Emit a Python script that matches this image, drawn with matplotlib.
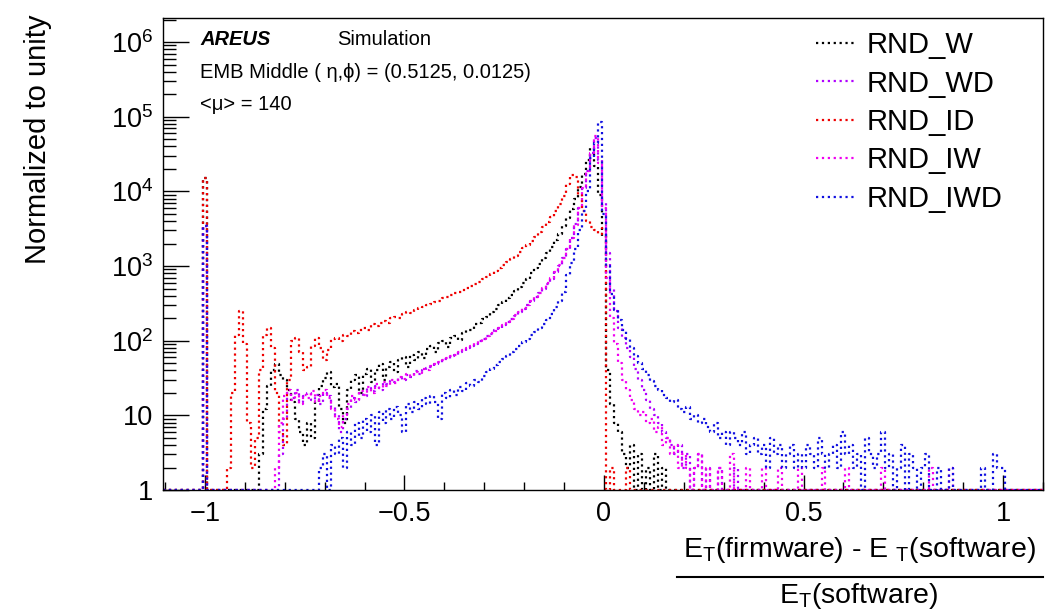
import numpy as np
import matplotlib
matplotlib.use("Agg")
import matplotlib.pyplot as plt
from matplotlib.lines import Line2D
from matplotlib.ticker import FixedLocator, MultipleLocator, LogLocator, FuncFormatter, NullFormatter

plt.rcParams["font.family"] = ["Liberation Sans", "DejaVu Sans"]
plt.rcParams["mathtext.fontset"] = "custom"
plt.rcParams["mathtext.rm"] = "Liberation Sans"
plt.rcParams["mathtext.it"] = "Liberation Sans:italic"
plt.rcParams["mathtext.bf"] = "Liberation Sans:bold"

# binning: 0.01 wide bins centred on -1.10 ... 1.10
bin_centers = np.round(np.arange(-110, 111) * 0.01, 2)
bin_edges = np.append(bin_centers - 0.005, bin_centers[-1] + 0.005)

labels = ["RND_W", "RND_WD", "RND_ID", "RND_IW", "RND_IWD"]
colors = ["black", "#b000ff", "#ee0000", "#f000f0", "#1010e0"]

# entries in the bin at -1 (failed reconstruction)
spike_vals = [15000, 3400, 15000, 3400, 3400]

# RND_W
w_start = -0.86
w_counts = [3, 12, 25, 40, 48, 35, 30, 22, 15, 9,
            6, 4, 8, 5, 15, 25, 32, 38, 24, 26,
            12, 8, 22, 30, 35, 20, 36, 42, 28, 40,
            48, 30, 45, 52, 38, 55, 60, 45, 65, 55,
            70, 58, 78, 85, 70, 92, 98, 82, 108, 115,
            102, 128, 140, 138, 165, 170, 195, 210, 245, 262,
            300, 325, 375, 410, 470, 520, 600, 680, 800, 930,
            1080, 1270, 1500, 1800, 2200, 2700, 3400, 4400, 5800, 8000,
            11500, 17000, 26000, 38000, 22000, 9000, 2500, 40, 14, 8,
            6, 3, 2, 4, 1, 3, 0, 2, 1, 3,
            0, 2, 0, 1, 0, 0, 1]

# RND_WD
wd_start = -0.81
wd_counts = [3, 9, 20, 17, 22, 15, 18, 20, 16, 19,
             14, 20, 18, 13, 10, 6, 9, 12, 17, 15,
             20, 18, 23, 21, 25, 22, 27, 26, 29, 28,
             32, 30, 35, 33, 39, 36, 41, 43, 45, 49,
             51, 56, 57, 63, 64, 71, 72, 79, 84, 90,
             99, 104, 116, 124, 137, 146, 163, 176, 197, 215,
             245, 268, 305, 338, 390, 430, 500, 580, 680, 820,
             1000, 1300, 1700, 2400, 3600, 6000, 11000, 19000, 33000, 52000,
             26000, 7000, 1500, 500, 250, 150, 110, 80, 60, 42,
             30, 22, 16, 12, 10, 8, 6, 5, 4, 3,
             4, 2, 3, 1, 2, 3, 1, 2, 0, 1,
             2, 0, 1, 0, 2, 1, 0, 0, 1, 0]

# RND_ID
id_start = -0.94
id_counts = [2, 20, 120, 250, 90, 8, 2, 5, 40, 120,
             150, 80, 20, 6, 4, 30, 100, 110, 70, 40,
             45, 85, 110, 80, 55, 75, 105, 110, 100, 120,
             115, 135, 125, 140, 150, 140, 165, 155, 175, 185,
             175, 200, 210, 200, 225, 240, 235, 260, 270, 285,
             300, 310, 330, 345, 370, 385, 410, 430, 455, 480,
             510, 545, 580, 620, 665, 720, 780, 850, 930, 1020,
             1120, 1240, 1380, 1540, 1720, 1930, 2180, 2480, 2850, 3300,
             3850, 4550, 5500, 6800, 8800, 12500, 16500, 15500, 9000, 5500,
             4000, 3300, 3000, 2700, 3200, 0, 2, 0, 0, 1, 2]

# RND_IW
iw_start = -0.82
iw_counts = [2, 8, 18, 22, 16, 20, 14, 19, 17, 21,
             15, 18, 22, 17, 12, 9, 7, 10, 14, 18,
             16, 21, 19, 24, 20, 26, 23, 28, 25, 30,
             27, 33, 31, 36, 34, 38, 37, 42, 40, 46,
             48, 52, 55, 58, 62, 65, 70, 74, 80, 86,
             92, 98, 106, 115, 125, 136, 148, 162, 178, 196,
             218, 242, 270, 302, 340, 385, 440, 505, 590, 700,
             840, 1030, 1300, 1700, 2400, 3500, 6000, 11000, 19000, 33000,
             55000, 24000, 6000, 700, 200, 90, 50, 30, 22, 16,
             12, 10, 11, 8, 9, 6, 7, 4, 5, 3,
             4, 2, 3, 2, 1, 2, 3, 1, 2, 0,
             1, 2, 0, 1, 3, 0, 1, 0, 2, 0,
             1, 0, 2, 1, 0, 0, 2, 0, 1, 0,
             0, 2, 0, 1, 0, 0, 0, 2, 0, 0,
             1, 0, 0, 2, 0, 0, 1, 0, 0, 0,
             0, 0, 2, 0, 0, 0, 0, 1, 0, 0,
             0, 0, 0, 0, 2, 0, 0, 0, 0, 2, 0]

# RND_IWD
iwd_start = -0.71
iwd_counts = [2, 3, 1, 4, 3, 5, 2, 6, 4, 8,
              5, 9, 6, 10, 4, 11, 8, 12, 9, 13,
              10, 6, 14, 11, 15, 12, 17, 14, 18, 15,
              9, 20, 17, 22, 19, 24, 21, 27, 25, 30,
              28, 34, 38, 42, 47, 52, 57, 63, 70, 78,
              86, 95, 105, 118, 132, 148, 168, 192, 230, 280,
              340, 450, 750, 1100, 1700, 3000, 5500, 10000, 28000, 45000,
              85000, 5000, 1000, 420, 260, 190, 140, 105, 80, 62,
              50, 42, 35, 29, 25, 22, 19, 17, 15, 16,
              12, 11, 13, 9, 10, 8, 9, 7, 6, 8,
              5, 6, 4, 6, 5, 4, 6, 3, 4, 5,
              3, 4, 2, 5, 3, 4, 2, 3, 4, 2,
              3, 2, 4, 3, 2, 5, 3, 2, 3, 4,
              2, 6, 3, 4, 2, 3, 1, 5, 3, 2,
              3, 6, 2, 3, 1, 2, 4, 1, 3, 2,
              1, 2, 3, 1, 0, 2, 1, 0, 2, 0,
              1, 0, 0, 0, 1, 0, 2, 0, 0, 3,
              2, 2, 0]

starts = [w_start, wd_start, id_start, iw_start, iwd_start]
counts = [w_counts, wd_counts, id_counts, iw_counts, iwd_counts]


def fill_hist(start, vals, spike):
    h = np.zeros(len(bin_centers))
    i0 = int(np.argmin(np.abs(bin_centers - start)))
    h[i0:i0 + len(vals)] = vals
    h[np.argmin(np.abs(bin_centers + 1.0))] = spike
    return h


fig = plt.figure(figsize=(10.47, 6.13), dpi=100)
ax = fig.add_axes([163 / 1047, 1 - 490 / 613, 880 / 1047, 472 / 613])

for lab, col, st, vals, sp in zip(labels, colors, starts, counts, spike_vals):
    h = np.clip(fill_hist(st, vals, sp), 1, None)
    ax.step(bin_edges, np.append(h, h[-1]), where="post", color=col,
            ls=":", lw=1.6, label=lab)

ax.set_yscale("log")
ax.set_ylim(1, 2.1e6)
ax.set_xlim(-1.105, 1.10)

ax.xaxis.set_major_locator(FixedLocator([-1, -0.5, 0, 0.5, 1]))
ax.xaxis.set_minor_locator(MultipleLocator(0.1))
ax.xaxis.set_major_formatter(FuncFormatter(
    lambda v, p: ("%g" % v).replace("-", "\u2212")))
ax.yaxis.set_major_locator(LogLocator(base=10, numticks=12))
ax.yaxis.set_minor_locator(LogLocator(base=10, subs=np.arange(2, 10), numticks=12))
ax.yaxis.set_minor_formatter(NullFormatter())


def ylab(v, p):
    n = int(round(np.log10(v)))
    if n == 0:
        return "1"
    if n == 1:
        return "10"
    return r"$\mathregular{10^{%d}}$" % n


ax.yaxis.set_major_formatter(FuncFormatter(ylab))

ax.tick_params(axis="both", which="both", direction="in", top=False, right=False)
ax.tick_params(axis="y", which="major", length=19, width=1, labelsize=19.5, pad=7)
ax.tick_params(axis="y", which="minor", length=9.5, width=1)
ax.tick_params(axis="x", which="major", length=11, width=1, labelsize=19.5, pad=8)
ax.tick_params(axis="x", which="minor", length=6, width=1)
for s in ax.spines.values():
    s.set_linewidth(1.0)

ax.legend(loc="upper left", bbox_to_anchor=((816 - 163) / 880, 1 - (31 - 18) / 472),
          frameon=False, fontsize=21, handlelength=1.4, handletextpad=0.35,
          labelspacing=0.36, borderpad=0, borderaxespad=0)

# labels inside the frame
fig.text(200 / 1047, 1 - 45 / 613, "AREUS", fontsize=14.5, fontweight="bold",
         fontstyle="italic", va="baseline")
fig.text(337 / 1047, 1 - 45 / 613, "Simulation", fontsize=14.5, va="baseline")
fig.text(200 / 1047, 1 - 78 / 613, "EMB Middle ( \u03b7,\u03d5) = (0.5125, 0.0125)",
         fontsize=14.5, va="baseline")
fig.text(200 / 1047, 1 - 110 / 613, "<\u03bc> = 140", fontsize=14.5, va="baseline")

# axis titles
fig.text(38 / 1047, 1 - 15 / 613, "Normalized to unity", rotation=90,
         ha="center", va="top", fontsize=21)
fig.text(859 / 1047, 1 - 557 / 613,
         r"E$_{\mathregular{T}}$(firmware) - E $_{\mathregular{T}}$(software)",
         ha="center", va="baseline", fontsize=20.5)
fig.add_artist(Line2D([677 / 1047, 1043 / 1047], [1 - 577 / 613] * 2,
                      color="black", lw=1.5))
fig.text(859 / 1047, 1 - 603 / 613, r"E$_{\mathregular{T}}$(software)",
         ha="center", va="baseline", fontsize=20.5)

fig.savefig("out.png", dpi=100)
